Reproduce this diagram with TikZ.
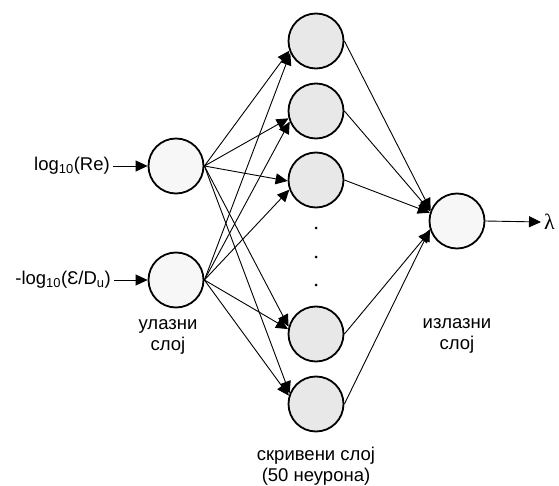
\documentclass[tikz,border=0pt]{standalone}
\usepackage{fontspec}
\setmainfont{Liberation Sans}
\newfontfamily\seriffont{Liberation Serif}
\usetikzlibrary{arrows.meta}
\begin{document}
\begin{tikzpicture}[x=1pt,y=-1pt,
  neuron/.style={circle,draw,line width=1.8pt,minimum size=55pt,inner sep=0pt},
  inout/.style={neuron,fill=black!3},
  hid/.style={neuron,fill=black!9},
  conn/.style={line width=0.9pt,-{Triangle[length=12pt,width=11pt]}},
  lbl/.style={font=\fontsize{18.5}{21.5}\selectfont,inner sep=0pt,align=center}]
\useasboundingbox (0,0) rectangle (559,486);
% input layer
\node[inout] (i1) at (176,166) {};
\node[inout] (i2) at (176,280) {};
% hidden layer
\node[hid] (h1) at (316,41) {};
\node[hid] (h2) at (316,111) {};
\node[hid] (h3) at (316,180) {};
\node[hid] (h4) at (316,334) {};
\node[hid] (h5) at (316,404) {};
% output
\node[inout] (o) at (457,221) {};
% dots
\foreach \y/\n in {228/d1,257/d2,285/d3}
  \node[circle,fill=black,inner sep=0pt,minimum size=3pt] (\n) at (316,\y) {};
% labels
\node[lbl,anchor=east] (t1) at (110,166) {log\textsubscript{10}(Re)};
\node[lbl,anchor=east] (t2) at (111,280) {-log\textsubscript{10}(Ɛ/D\textsubscript{u})};
\node[lbl] (l1) at (168,337) {улазни\\слој};
\node[lbl] (l2) at (457,336) {излазни\\слој};
\node[lbl] (l3) at (316,466) {скривени слој\\(50 неурона)};
\node[inner sep=0pt,anchor=west,font=\seriffont\fontsize{22}{24}\selectfont] (lam) at (544,222) {λ};
% input arrows
\draw[conn] ([xshift=3pt]t1.east) -- (i1.west);
\draw[conn] ([xshift=3pt]t2.east) -- (i2.west);
\draw[conn] (o.east) -- ([xshift=-3pt]lam.west);
% input -> hidden
\draw[conn] (i1.east) -- (h1.200);
\draw[conn] (i2.east) -- (h1.205);
\draw[conn] (i1.east) -- (h2.195);
\draw[conn] (i2.east) -- (h2.202);
\draw[conn] (i1.east) -- (h3.182);
\draw[conn] (i2.east) -- (h3.200);
\draw[conn] (i1.east) -- (h4.165);
\draw[conn] (i2.east) -- (h4.170);
\draw[conn] (i1.east) -- (h5.158);
\draw[conn] (i2.east) -- (h5.163);
% hidden -> output
\draw[conn] (h1.east) -- (o.158);
\draw[conn] (h2.east) -- (o.160);
\draw[conn] (h3.east) -- (o.163);
\draw[conn] (h4.east) -- (o.200);
\draw[conn] (h5.east) -- (o.197);
\end{tikzpicture}
\end{document}
